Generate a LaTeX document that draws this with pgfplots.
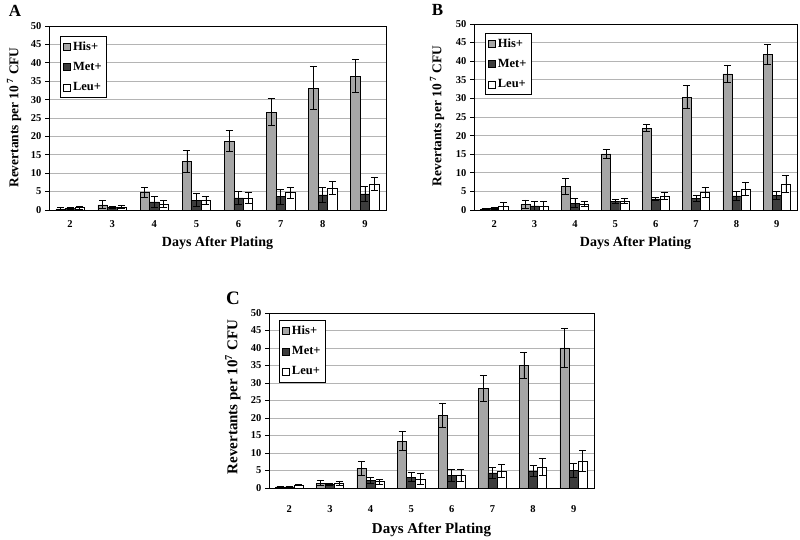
\documentclass[border=0pt]{standalone}
\usepackage{fontspec}
\setmainfont{Liberation Serif}
\usepackage{pgfplots}
\usepackage{pgfplotstable}
\pgfplotsset{compat=1.18}

\pgfplotstableread{
x his hise met mete leu leue
0 0.3 0.3 0.4 0.3 0.6 0.5
1 1.4 1.1 0.7 0.3 0.8 0.5
2 4.8 1.4 2.2 1.6 1.6 0.9
3 13.2 3.0 2.7 1.8 2.5 1.1
4 18.7 2.9 3.3 1.8 3.3 1.4
5 26.6 3.6 3.6 2.0 4.7 1.5
6 33.1 5.9 4.1 2.1 6.0 1.8
7 36.4 4.5 4.4 2.0 7.1 1.8
}\dataA
\pgfplotstableread{
x his hise met mete leu leue
0 0.3 0.2 0.4 0.3 0.9 1.1
1 1.6 1.1 1.1 1.1 1.1 1.1
2 6.3 2.2 1.8 1.2 1.6 0.6
3 15.1 1.2 2.4 0.5 2.4 0.7
4 22.0 1.0 3.0 0.3 3.8 1.0
5 30.3 3.1 3.1 0.9 4.8 1.3
6 36.6 2.4 3.8 1.1 5.6 1.8
7 41.9 2.7 4.0 1.1 6.9 2.3
}\dataB
\pgfplotstableread{
x his hise met mete leu leue
0 0.3 0.1 0.3 0.1 0.8 0.2
1 1.4 0.8 1.0 0.4 1.2 0.6
2 5.6 2.1 2.2 0.8 1.8 0.7
3 13.4 2.7 3.1 1.3 2.5 1.6
4 20.8 3.5 3.6 1.6 3.6 1.6
5 28.5 3.7 4.3 1.7 4.9 1.9
6 35.0 3.7 4.9 1.5 6.0 2.4
7 40.0 5.5 5.0 2.0 7.6 3.0
}\dataC

\definecolor{hisfill}{HTML}{A6A6A6}
\definecolor{metfill}{HTML}{3C3C3C}
\definecolor{gridc}{HTML}{B4B4B4}

\pgfplotsset{
  panel/.style={
    scale only axis,
    anchor=south west,
    ymin=0, ymax=50,
    ytick={0,5,...,50},
    xmin=-0.5, xmax=7.5,
    xtick={0,...,7},
    xticklabels={2,3,4,5,6,7,8,9},
    major x tick style={draw=none},
    extra x ticks={-0.5,0.5,1.5,2.5,3.5,4.5,5.5,6.5,7.5},
    extra x tick labels={},
    extra x tick style={major tick length=3pt, tick align=outside, tick style={draw=black, line width=0.6pt}},
    ytick pos=left, xtick pos=bottom,
    tick align=outside,
    major tick length=4pt,
    ymajorgrids,
    grid style={gridc, line width=0.8pt},
    axis line style={black, line width=0.9pt},
    tick style={black, line width=0.7pt},
    /pgf/number format/assume math mode=true,
    tick label style={font=\bfseries\fontsize{10.5}{12}\selectfont},
    xticklabel style={yshift=-3pt},
    ybar=0pt,
    bar width=0.225,
    legend cell align=left,
    legend image code/.code={\draw[#1,draw=black,line width=0.6pt] (0pt,-3.5pt) rectangle (7pt,3.5pt);},
    legend style={font=\bfseries\fontsize{12.5}{14}\selectfont, draw=black, line width=0.6pt, fill=white, row sep=6.5pt, inner xsep=3pt, inner ysep=3.5pt, anchor=north west},
    every axis plot/.append style={draw=black, line width=0.6pt,
      error bars/y dir=both, error bars/y explicit,
      error bars/error bar style={line width=0.8pt, black},
      error bars/error mark options={line width=0.8pt, black, mark size=3.5pt, rotate=90}},
  }
}

\newcommand{\bars}[1]{%
  \addplot[fill=hisfill] table[x=x, y=his, y error=hise] {#1};
  \addplot[fill=metfill] table[x=x, y=met, y error=mete] {#1};
  \addplot[fill=white] table[x=x, y=leu, y error=leue] {#1};
  \legend{His+, Met+, Leu+}
}

\begin{document}
\begin{tikzpicture}
\useasboundingbox (0,0) rectangle (800pt,540pt);
% Panel A
\begin{axis}[panel, at={(49pt,330pt)}, width=337pt, height=184pt,
  legend style={at={(0.033,0.946)}}]
\bars{\dataA}
\end{axis}
% Panel B
\begin{axis}[panel, at={(474pt,330pt)}, width=323pt, height=186pt,
  legend style={at={(0.034,0.952)}}]
\bars{\dataB}
\end{axis}
% Panel C
\begin{axis}[panel, at={(269pt,52pt)}, width=325pt, height=175pt,
  xticklabel style={yshift=-7pt},
  legend style={at={(0.031,0.96)}}]
\bars{\dataC}
\end{axis}

\node[font=\bfseries\fontsize{17}{19}\selectfont] at (15pt,529pt) {A};
\node[font=\bfseries\fontsize{17}{19}\selectfont] at (437.5pt,530pt) {B};
\node[font=\bfseries\fontsize{19}{21}\selectfont] at (233pt,242pt) {C};

\node[rotate=90, font=\bfseries\fontsize{13.4}{15}\selectfont] at (14pt,422.5pt) {Revertants per 10\,$^{\mathbf{7}}$ CFU};
\node[rotate=90, font=\bfseries\fontsize{13.4}{15}\selectfont] at (437pt,424pt) {Revertants per 10\,$^{\mathbf{7}}$ CFU};
\node[rotate=90, font=\bfseries\fontsize{15}{17}\selectfont] at (233pt,143pt) {Revertants per 10$^{\mathbf{7}}$ CFU};

\node[font=\bfseries\fontsize{14}{16}\selectfont] at (217.5pt,297pt) {Days After Plating};
\node[font=\bfseries\fontsize{14}{16}\selectfont] at (635.5pt,297pt) {Days After Plating};
\node[font=\bfseries\fontsize{15}{17}\selectfont] at (431.5pt,10pt) {Days After Plating};
\end{tikzpicture}
\end{document}
